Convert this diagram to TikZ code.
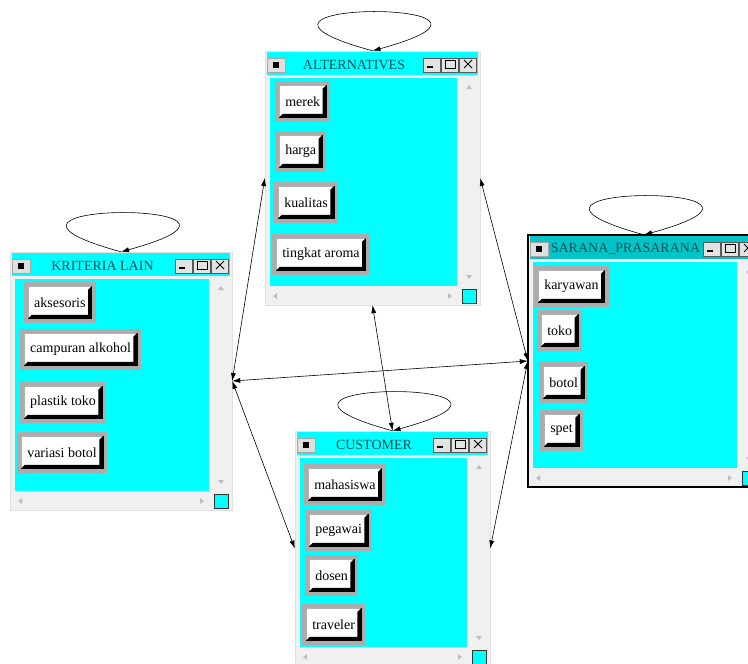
\documentclass[tikz,border=0pt]{standalone}
\usepackage{fontspec}
\setmainfont{Liberation Serif}
\usetikzlibrary{arrows.meta,positioning,fit,calc}
\definecolor{layar}{RGB}{0,255,255}
\definecolor{layargelap}{RGB}{0,196,200}
\definecolor{bingkai}{RGB}{240,240,240}
\definecolor{abu}{RGB}{172,172,172}
\definecolor{judul}{RGB}{0,80,84}
\tikzset{win/.style={fill=bingkai,draw=black!12,inner sep=0pt},
 tombol/.style={fill=white,draw=abu,line width=3.5pt,anchor=north west,inner xsep=8.5pt,
   minimum height=37pt,font=\fontsize{14}{16}\selectfont,text=black,
   path picture={
     \draw[black!30,line width=5.5pt] (path picture bounding box.south west)
       -- (path picture bounding box.north west) -- (path picture bounding box.north east);
     \fill[black] (path picture bounding box.south west) -- (path picture bounding box.south east)
       -- (path picture bounding box.north east)
       -- ([shift={(-6pt,-6pt)}]path picture bounding box.north east)
       -- ([shift={(-6pt,6pt)}]path picture bounding box.south east)
       -- ([shift={(6pt,6pt)}]path picture bounding box.south west) -- cycle;}},
 panah/.style={{Latex[length=8pt,width=5pt]}-{Latex[length=8pt,width=5pt]},line width=0.6pt},
 putar/.style={-{Latex[length=8pt,width=5pt]},line width=0.6pt}}

% #1 warna judul, #2 nama, #3 judul, (#4,#5) kiri atas, (#6,#7) kanan bawah
\newcommand{\jendela}[7][layar]{%
  \node[win,fit={(#4,#5) (#6,#7)}] (#2) {};
  \fill[#1] (#4+2,#5+1) rectangle (#6-2,#5+24);
  % menu sistem
  \filldraw[fill=gray!25,draw=gray!70] (#4+2,#5+7) rectangle (#4+20,#5+21);
  \fill[black] (#4+8,#5+11) rectangle (#4+14,#5+17);
  \node[font=\fontsize{14}{16}\selectfont,text=judul] at ({(#4+#6-37)/2},#5+14) {#3};
  % minimize, maximize, close
  \foreach \k in {0,1,2}
    \filldraw[fill=gray!22,draw=black!65] (#6-57+18*\k,#5+7) rectangle (#6-40+18*\k,#5+21);
  \draw[line width=2pt] (#6-53,#5+16) -- (#6-47,#5+16);
  \draw[line width=1pt] (#6-35,#5+9) rectangle (#6-25,#5+17);
  \draw[line width=0.9pt] (#6-16,#5+9) -- (#6-8,#5+17) (#6-16,#5+17) -- (#6-8,#5+9);
  % isi dan scrollbar
  \fill[layar] (#4+5,#5+27) rectangle (#6-23,#7-19);
  \fill[gray!50] (#6-11,#5+34) -- (#6-14,#5+38) -- (#6-8,#5+38) -- cycle;
  \fill[gray!50] (#6-11,#7-26) -- (#6-14,#7-30) -- (#6-8,#7-30) -- cycle;
  \fill[gray!50] (#4+8,#7-9) -- (#4+12,#7-12) -- (#4+12,#7-6) -- cycle;
  \fill[gray!50] (#6-28,#7-9) -- (#6-32,#7-12) -- (#6-32,#7-6) -- cycle;
  \filldraw[fill=layar,draw=black!80] (#6-18,#7-16) rectangle (#6-4,#7-2);
}

\begin{document}
\begin{tikzpicture}[x=1pt,y=-1pt]
\clip (0,0) rectangle (748,664);
\fill[white] (0,0) rectangle (748,664);

\jendela{alt}{ALTERNATIVES}{265}{51}{480}{305}
\jendela{krit}{KRITERIA LAIN}{10}{252}{232}{510}
\jendela[layargelap]{sarana}{SARANA\_PRASARANA}{528}{235}{760}{487}
\jendela{cust}{CUSTOMER}{295}{431}{490}{666}
\draw[line width=2pt] (sarana.north west) rectangle (sarana.south east);

% tombol tiap jendela
\node[tombol] (merek) at (275,81) {merek};
\node[tombol] (harga) at (275,131) {harga};
\node[tombol] (kualitas) at (274,182) {kualitas};
\node[tombol] (aroma) at (272,234) {tingkat aroma};

\node[tombol] (aksesoris) at (24,282) {aksesoris};
\node[tombol] (alkohol) at (20,329) {campuran alkohol};
\node[tombol] (plastik) at (20,382) {plastik toko};
\node[tombol] (variasi) at (17,432) {variasi botol};

\node[tombol] (karyawan) at (534,266) {karyawan};
\node[tombol] (toko) at (537,310) {toko};
\node[tombol] (botol) at (539,362) {botol};
\node[tombol] (spet) at (540,410) {spet};

\node[tombol] (mahasiswa) at (304,464) {mahasiswa};
\node[tombol] (pegawai) at (305,510) {pegawai};
\node[tombol] (dosen) at (305,555) {dosen};
\node[tombol] (traveler) at (302,604) {traveler};

% hubungan antar jendela
\draw[panah] (alt.west) -- (krit.east);
\draw[panah] (alt.east) -- (sarana.west);
\draw[panah] (alt.south) -- (cust.north);
\draw[panah] (krit.east) -- (sarana.west);
\draw[panah] (krit.east) -- (cust.west);
\draw[panah] (sarana.west) -- (cust.east);

\foreach \w in {alt,krit,sarana,cust}
  \draw[putar] (\w.north) .. controls +(-190pt,52pt) and +(190pt,52pt) .. (\w.north);
\end{tikzpicture}
\end{document}
